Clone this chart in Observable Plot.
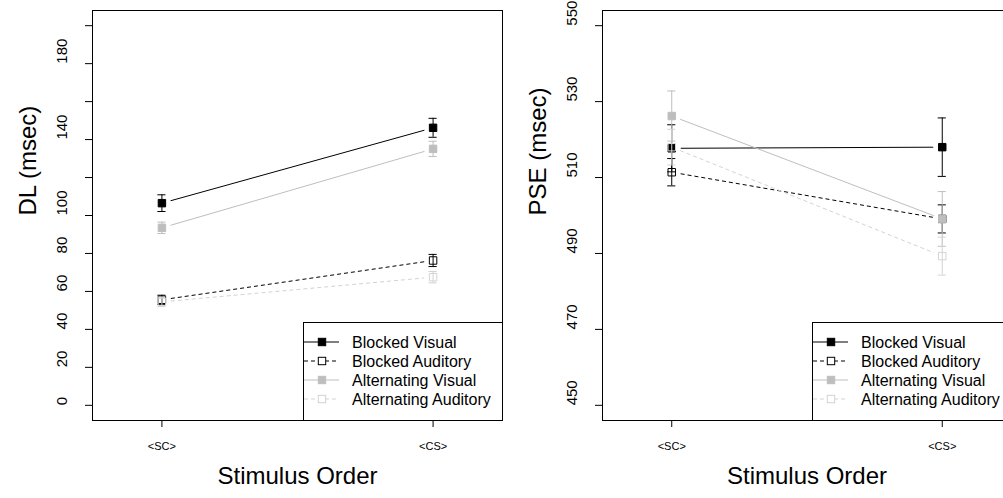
<!DOCTYPE html>
<html>
<head>
<meta charset="utf-8">
<script src="https://cdn.jsdelivr.net/npm/d3@7"></script>
<script src="https://cdn.jsdelivr.net/npm/@observablehq/plot@0.6"></script>
<style>
  html, body { margin: 0; padding: 0; background: white; }
  #wrap { position: relative; width: 1003px; height: 498px; overflow: hidden; background: white; }
  #wrap svg { position: absolute; top: 0; background: transparent; }
</style>
</head>
<body>
<div id="wrap"></div>
<script>
// ---- data ----
const series = ["Blocked Visual", "Blocked Auditory", "Alternating Visual", "Alternating Auditory"];
const orderLabels = ["<SC>", "<CS>"];
const dlSC = [106.5, 55.6, 93.5, 54.5];
const dlCS = [146.2, 76.3, 135.1, 67.5];
const dlErrSC = [4.4, 2.4, 3.0, 2.5];
const dlErrCS = [5.0, 3.2, 4.0, 3.0];
const pseSC = [517.7, 511.4, 526.2, 518.0];
const pseCS = [518.0, 499.1, 499.1, 489.3];
const pseErrSC = [6.2, 3.6, 6.6, 4.7];
const pseErrCS = [7.7, 3.7, 7.2, 5.0];
const dlTicks = [0, 20, 40, 60, 80, 100, 120, 140, 160, 180, 200];
const dlTickLabels = [0, 20, 40, 60, 80, 100, 140, 180];
const pseTicks = [450, 470, 490, 510, 530, 550];
const pseTickLabels = [450, 470, 490, 510, 530, 550];

// ---- styles ----
const styles = {
  "Blocked Visual": {color: "#000000", dash: null, filled: true},
  "Blocked Auditory": {color: "#000000", dash: "4,3", filled: false},
  "Alternating Visual": {color: "#bebebe", dash: null, filled: true},
  "Alternating Auditory": {color: "#d3d3d3", dash: "4,3", filled: false}
};
const FONT = "'Liberation Sans', Arial, Helvetica, sans-serif";

function buildRows(sc, cs, esc, ecs) {
  const pts = [];
  series.forEach((s, i) => {
    pts.push({series: s, x: 1, y: sc[i], e: esc[i]});
    pts.push({series: s, x: 2, y: cs[i], e: ecs[i]});
  });
  const segs = series.map((s, i) => ({series: s, x1: 1, y1: sc[i], x2: 2, y2: cs[i]}));
  return {pts, segs};
}

function panel({sc, cs, esc, ecs, yDomain, ticks, tickLabels, ylabel, width, marginLeft, marginRight}) {
  const {pts, segs} = buildRows(sc, cs, esc, ecs);
  const marks = [
    Plot.axisY({ticks, tickSize: 7, tickFormat: () => "", label: null, stroke: "black"}),
    Plot.text(tickLabels, {y: d => d, text: d => String(d), frameAnchor: "left", dx: -30, rotate: -90, fontSize: 15, fill: "black"}),
    Plot.axisX({ticks: [1, 2], tickSize: 7, tickFormat: () => "", label: null, stroke: "black"}),
    Plot.text(orderLabels, {x: (d, i) => i + 1, text: d => d, frameAnchor: "bottom", dy: 29, fontSize: 11, fill: "black"}),
    Plot.text([ylabel], {frameAnchor: "left", dx: -64, rotate: -90, fontSize: 24, fill: "black"}),
    Plot.text(["Stimulus Order"], {frameAnchor: "bottom", dy: 63, fontSize: 24, fill: "black"})
  ];
  for (const s of series) {
    const st = styles[s];
    const P = pts.filter(d => d.series === s);
    const S = segs.filter(d => d.series === s);
    marks.push(
      Plot.arrow(S, {x1: "x1", y1: "y1", x2: "x2", y2: "y2", stroke: st.color, strokeWidth: 1,
        strokeDasharray: st.dash || undefined, headLength: 0, inset: 9, strokeLinecap: "butt"}),
      Plot.ruleX(P, {x: "x", y1: d => d.y - d.e, y2: d => d.y + d.e, stroke: st.color, strokeWidth: 1}),
      Plot.ruleY(P, {y: d => d.y - d.e, x1: d => d.x - 0.015, x2: d => d.x + 0.015, stroke: st.color, strokeWidth: 1}),
      Plot.ruleY(P, {y: d => d.y + d.e, x1: d => d.x - 0.015, x2: d => d.x + 0.015, stroke: st.color, strokeWidth: 1}),
      Plot.dot(P, {x: "x", y: "y", symbol: "square", r: 4.2, stroke: st.color, strokeWidth: 1,
        fill: st.filled ? st.color : "none"})
    );
  }
  marks.push(Plot.frame({stroke: "black"}));
  const svg = Plot.plot({
    width, height: 498, marginLeft, marginRight, marginTop: 10, marginBottom: 78,
    x: {domain: [0.744, 2.256]},
    y: {domain: yDomain},
    style: {fontFamily: FONT, background: "transparent", color: "black", overflow: "visible"},
    marks
  });
  // legend (bottom-right inside the frame, like R's legend("bottomright"))
  const fr = width - marginRight, fb = 498 - 78;
  const lw = 199, lh = 98;
  const g = d3.select(svg).append("g").attr("transform", `translate(${fr - lw},${fb - lh})`);
  g.append("rect").attr("x", 0.5).attr("y", 0.5).attr("width", lw).attr("height", lh)
    .attr("fill", "white").attr("stroke", "black");
  series.forEach((s, i) => {
    const st = styles[s];
    const yy = 20 + i * 19;
    g.append("line").attr("x1", 1).attr("x2", 36).attr("y1", yy).attr("y2", yy)
      .attr("stroke", st.color).attr("stroke-dasharray", st.dash);
    g.append("rect").attr("x", 19 - 3.7).attr("y", yy - 3.7).attr("width", 7.4).attr("height", 7.4)
      .attr("stroke", st.color).attr("fill", st.filled ? st.color : "white");
    g.append("text").attr("x", 49).attr("y", yy + 5.5).attr("font-size", 16)
      .attr("text-anchor", "start").attr("font-family", FONT).attr("fill", "black").text(s);
  });
  return svg;
}

const wrap = document.getElementById("wrap");
const left = panel({sc: dlSC, cs: dlCS, esc: dlErrSC, ecs: dlErrCS, yDomain: [-8, 208],
  ticks: dlTicks, tickLabels: dlTickLabels, ylabel: "DL (msec)", width: 510, marginLeft: 92, marginRight: 8});
left.style.left = "0px";
wrap.appendChild(left);
const right = panel({sc: pseSC, cs: pseCS, esc: pseErrSC, ecs: pseErrCS, yDomain: [446, 554],
  ticks: pseTicks, tickLabels: pseTickLabels, ylabel: "PSE (msec)", width: 520, marginLeft: 92, marginRight: 19});
right.style.left = "510px";
wrap.appendChild(right);
</script>
</body>
</html>
